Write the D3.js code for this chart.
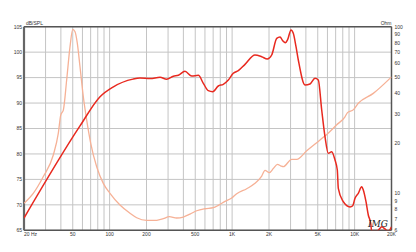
<!DOCTYPE html>
<html>
<head>
<meta charset="utf-8">
<script src="https://cdn.jsdelivr.net/npm/d3@7"></script>
<style>
html, body { margin: 0; padding: 0; background: #fff; }
svg { display: block; font-family: "Liberation Sans", Arial, sans-serif; }
</style>
</head>
<body>
<div id="chart"></div>
<script>
const w = 416;
const h = 252;
const margin = {top: 26.7, right: 24.5, bottom: 21.7, left: 24};

// frequency response (Hz, dB SPL)
const splFreq = [20, 57.3, 83.5, 106.5, 155, 177, 214, 258, 292, 331, 364, 412, 468, 530, 582, 639, 694, 771, 847, 931,
	1022, 1123, 1274, 1537, 1744, 1937, 2104, 2312, 2460, 2588, 2717, 2843, 3024, 3158, 3323, 3470, 3936, 4322, 4747, 5052,
	5386, 5730, 6098, 6498, 6916, 7222, 7358, 8084, 8616, 9166, 9648, 10072, 10716, 11422, 11772, 12384, 12930, 13526,
	13784, 15142, 16112, 16636, 17700, 18834, 20000];
const splDb = [67.4, 85.5, 91.25, 93.15, 94.7, 94.9, 94.8, 95.06, 94.67, 95.26, 95.45, 96.24, 95.3, 95.45, 93.88, 92.43, 92.23, 93.35, 93.68, 94.53,
	95.84, 96.36, 97.6, 99.44, 99.1, 98.65, 99.44, 102.7, 102.98, 102.25, 101.86, 102.5, 104.35, 103.7, 101.07, 98.46, 93.55, 93.74, 94.86, 94.53,
	88.63, 83.39, 80.13, 80.44, 78.81, 76.85, 73.25, 70.62, 69.83, 69.58, 69.83, 71.29, 72.27, 73.57, 72.92, 70.62, 68.0, 66.37,
	64.8, 64.8, 65.39, 65.7, 65.26, 64.8, 65.7];

// impedance (Hz, Ohm)
const impFreq = [20, 23.8, 28.7, 34.7, 38.1, 39.9, 41.9, 44.6, 47.5, 50.0, 52.2, 54.5, 57.3, 61.0, 65.0, 70.1, 78.4, 88.8, 100.7, 121.5,
	146.7, 166.4, 200.7, 242.4, 274.2, 307, 352.8, 399.4, 453, 513.8, 600.6, 702, 771, 875, 992, 1090, 1315, 1537, 1744, 1855,
	2011, 2168, 2346, 2506, 2617, 3064, 3366, 4062, 5218, 5894, 7112, 8346, 8746, 9792, 10716, 14204, 20000];
const impOhm = [8.71, 10.0, 12.58, 16.98, 22.9, 29.5, 31.6, 47.9, 75.9, 96.5, 93.3, 79.5, 57.5, 38.0, 27.5, 19.96, 14.45, 11.48, 10.0, 8.51,
	7.59, 7.14, 6.89, 6.89, 7.04, 7.24, 7.11, 7.21, 7.51, 7.86, 8.08, 8.2, 8.47, 8.95, 9.37, 9.94, 10.66, 11.48, 12.7, 13.74,
	13.3, 14.08, 14.93, 14.58, 14.45, 16.0, 16.0, 18.0, 20.9, 22.5, 25.7, 28.8, 30.5, 31.8, 34.7, 39.8, 50.0];

const freqGrid = [20, 30, 40, 50, 60, 70, 80, 90, 100, 200, 300, 400, 500, 600, 700, 800, 900,
	1000, 2000, 3000, 4000, 5000, 6000, 7000, 8000, 9000, 10000, 20000];
const freqTicks = [20, 50, 100, 200, 500, 1000, 2000, 5000, 10000, 20000];
const freqLabels = ["20  Hz", "50", "100", "200", "500", "1K", "2K", "5K", "10K", "20K"];
const dbTicks = [65, 70, 75, 80, 85, 90, 95, 100, 105];
const ohmTicks = [6, 7, 8, 9, 10, 20, 30, 40, 50, 60, 70, 80, 90, 100];

let svg = d3.select('#chart')
	.append('svg')
		.attr('width', w)
		.attr('height', h);

const x0 = margin.left, x1 = w - margin.right;
const y0 = margin.top, y1 = h - margin.bottom;

let xScale = d3.scaleLog().domain([20, 20000]).range([x0, x1]);
let dbScale = d3.scaleLinear().domain([65, 105]).range([y1, y0]);
let ohmScale = d3.scaleLog().domain([6, 100]).range([y1, y0]);

svg.append("clipPath").attr("id", "plot")
	.append("rect").attr("x", x0).attr("y", y0).attr("width", x1 - x0).attr("height", y1 - y0);

// grid
svg.append("g").selectAll("line")
	.data(freqGrid)
	.enter().append("line")
	.attr("x1", d => xScale(d)).attr("x2", d => xScale(d))
	.attr("y1", y0).attr("y2", y1)
	.attr("stroke", "#c4c4c4").attr("stroke-width", 1);

svg.append("g").selectAll("line")
	.data(dbTicks)
	.enter().append("line")
	.attr("x1", x0).attr("x2", x1)
	.attr("y1", d => dbScale(d)).attr("y2", d => dbScale(d))
	.attr("stroke", "#c4c4c4").attr("stroke-width", 1);

// frame
svg.append("line").attr("x1", x0).attr("x2", x1).attr("y1", y0).attr("y2", y0)
	.attr("stroke", "#555").attr("stroke-width", 1.5);
svg.append("line").attr("x1", x0).attr("x2", x1).attr("y1", y1).attr("y2", y1)
	.attr("stroke", "#555").attr("stroke-width", 1.5);
svg.append("line").attr("x1", x0).attr("x2", x0).attr("y1", y0).attr("y2", y1)
	.attr("stroke", "#666").attr("stroke-width", 2.2);
svg.append("line").attr("x1", x1).attr("x2", x1).attr("y1", y0).attr("y2", y1)
	.attr("stroke", "#555").attr("stroke-width", 1.5);

// curves
const impLine = d3.line().curve(d3.curveMonotoneX)
	.x((d, i) => xScale(impFreq[i]))
	.y(d => ohmScale(d));

const splLine = d3.line().curve(d3.curveMonotoneX)
	.x((d, i) => xScale(splFreq[i]))
	.y(d => dbScale(d));

let curves = svg.append("g").attr("clip-path", "url(#plot)");

curves.append("path")
	.attr("d", impLine(impOhm))
	.attr("fill", "none")
	.attr("stroke", "#f6b196")
	.attr("stroke-width", 1.3);

curves.append("path")
	.attr("d", splLine(splDb))
	.attr("fill", "none")
	.attr("stroke", "#e8291f")
	.attr("stroke-width", 1.5);

// axis labels
let labels = svg.append("g").attr("fill", "#333").attr("font-size", 5);

labels.selectAll(".db")
	.data(dbTicks)
	.enter().append("text")
	.attr("x", x0 - 2)
	.attr("y", d => dbScale(d) + 1.8)
	.attr("text-anchor", "end")
	.text(d => d);

labels.selectAll(".ohm")
	.data(ohmTicks)
	.enter().append("text")
	.attr("x", x1 + 3)
	.attr("y", d => ohmScale(d) + 1.8)
	.text(d => d);

labels.selectAll(".fq")
	.data(freqTicks)
	.enter().append("text")
	.attr("x", d => xScale(d))
	.attr("y", y1 + 6)
	.attr("text-anchor", (d, i) => i == 0 ? "start" : (i == freqTicks.length - 1 ? "middle" : "middle"))
	.text((d, i) => freqLabels[i]);

labels.append("text").attr("x", x0 + 2).attr("y", y0 - 2).text("dB/SPL");
labels.append("text").attr("x", x1).attr("y", y0 - 2).attr("text-anchor", "end").text("Ohm");

// logo
svg.append("text")
	.attr("x", 368).attr("y", 227)
	.attr("font-family", "'DejaVu Serif', serif")
	.attr("font-style", "italic")
	.attr("font-size", 9)
	.attr("fill", "#222")
	.text("IMG");
</script>
</body>
</html>
